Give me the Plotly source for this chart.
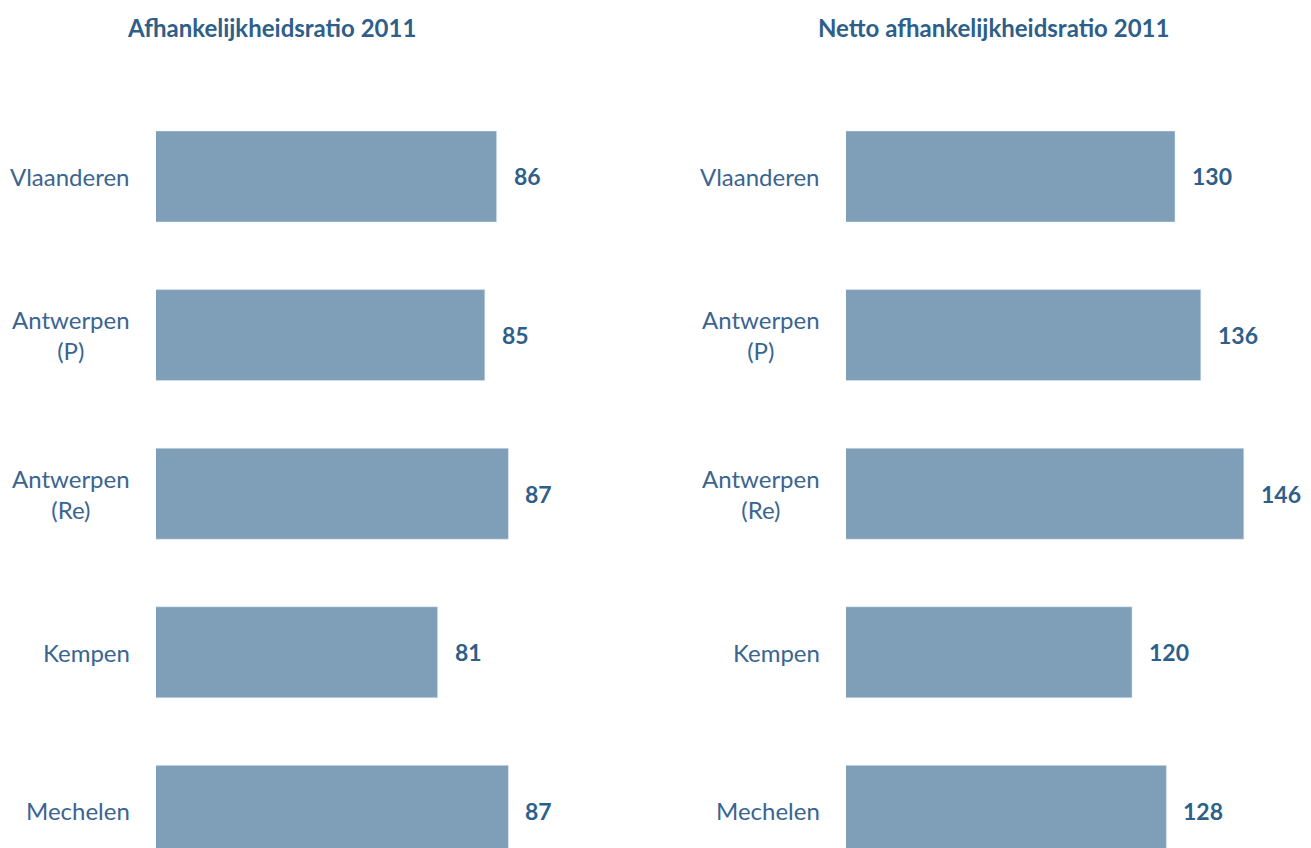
import plotly.graph_objects as go

categories = ["Vlaanderen", "Antwerpen (P)", "Antwerpen (Re)", "Kempen", "Mechelen"]
cat_labels = ["Vlaanderen", "Antwerpen<br>(P)", "Antwerpen<br>(Re)", "Kempen", "Mechelen"]
ratio_2011 = [86, 85, 87, 81, 87]
netto_ratio_2011 = [130, 136, 146, 120, 128]
titles = ["Afhankelijkheidsratio 2011", "Netto afhankelijkheidsratio 2011"]

# page body has an 8px margin, so the figure is drawn 8px smaller
W, H = 1303, 840
BAR = "#7F9FB8"
LBL = "#3A6590"
TTL = "#2E5F8A"
FONT = "Lato, 'Open Sans', sans-serif"

fig = go.Figure()
fig.add_trace(go.Bar(x=ratio_2011, y=categories, orientation="h", marker_color=BAR,
                     width=0.574, xaxis="x", yaxis="y", hoverinfo="skip"))
fig.add_trace(go.Bar(x=netto_ratio_2011, y=categories, orientation="h", marker_color=BAR,
                     width=0.574, xaxis="x2", yaxis="y", hoverinfo="skip"))

yrange = [4.234, -1.0624]
left_dom = [148 / W, 592 / W]
right_dom = [838 / W, 1282 / W]

annotations = []
for xr, dom, vals in [("x", left_dom, ratio_2011), ("x2", right_dom, netto_ratio_2011)]:
    for c, lab, v in zip(categories, cat_labels, vals):
        annotations.append(dict(x=dom[0], xref="paper", xanchor="right", xshift=-24,
                                y=c, yref="y", text=lab, showarrow=False, align="center",
                                font=dict(family=FONT, size=24, color=LBL)))
        annotations.append(dict(x=v, xref=xr, xanchor="left", xshift=15,
                                y=c, yref="y", text=f"<b>{v}</b>", showarrow=False,
                                font=dict(family=FONT, size=23, color=TTL)))
annotations.append(dict(x=263 / W, y=1 - 19 / H, xref="paper", yref="paper", text=f"<b>{titles[0]}</b>",
                        showarrow=False, xanchor="center", yanchor="middle",
                        font=dict(family=FONT, size=24, color=TTL)))
annotations.append(dict(x=985 / W, y=1 - 19 / H, xref="paper", yref="paper", text=f"<b>{titles[1]}</b>",
                        showarrow=False, xanchor="center", yanchor="middle",
                        font=dict(family=FONT, size=24, color=TTL)))

fig.update_layout(
    width=W, height=H, margin=dict(l=0, r=0, t=0, b=0),
    paper_bgcolor="white", plot_bgcolor="white", showlegend=False,
    xaxis=dict(domain=left_dom, range=[57.13, 94.76], visible=False),
    xaxis2=dict(domain=right_dom, range=[53.45, 156.75], visible=False),
    yaxis=dict(domain=[0, 1], range=yrange, type="category", categoryorder="array",
               categoryarray=categories, visible=False),
    annotations=annotations,
)
fig.write_html("out.html")
